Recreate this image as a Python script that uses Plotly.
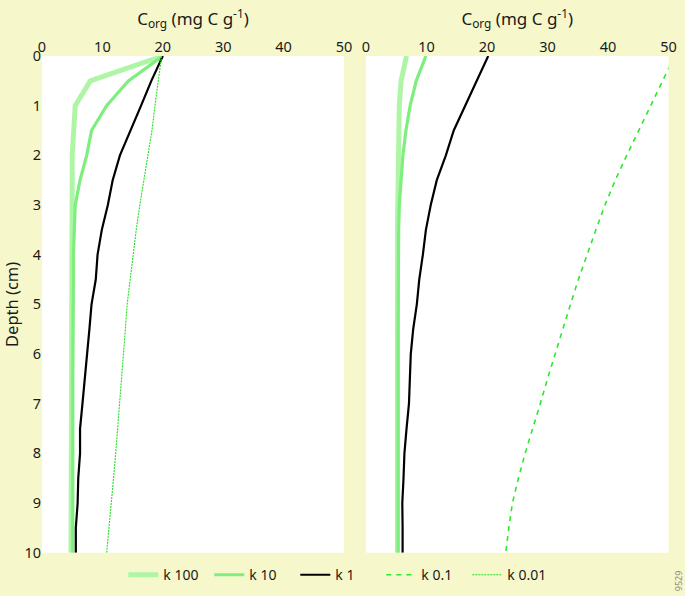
import plotly.graph_objects as go

# Depth (cm)
depth = [0, 0.5, 1, 1.5, 2, 2.5, 3, 3.5, 4, 4.5, 5, 5.5, 6, 6.5, 7, 7.5, 8, 8.5, 9, 9.5, 10]

# Left panel: Corg (mg C g-1)
left_k100 = [20, 8.0, 5.5, 5.2, 5.0, 5.0, 5.0, 4.9, 4.9, 4.9, 4.85, 4.85, 4.8, 4.8, 4.8, 4.8, 4.8, 4.8, 4.8, 4.8, 4.8]
left_k10 = [20, 14.3, 10.7, 8.2, 7.4, 6.3, 5.5, 5.3, 5.2, 5.2, 5.15, 5.1, 5.1, 5.1, 5.1, 5.1, 5.1, 5.1, 5.1, 5.1, 5.1]
left_k1 = [20, 18.1, 16.4, 14.6, 12.9, 11.7, 10.9, 9.9, 9.2, 8.9, 8.2, 7.85, 7.5, 7.1, 6.7, 6.3, 6.3, 6.0, 5.9, 5.6, 5.6]
left_k001 = [19.8, 19.2, 18.7, 18.2, 17.5, 16.8, 16.2, 15.6, 15.1, 14.6, 14.1, 13.8, 13.5, 13.2, 12.9, 12.55, 12.2, 11.85, 11.5, 11.1, 10.7]

# Right panel: Corg (mg C g-1)
right_k100 = [6.7, 5.8, 5.5, 5.4, 5.3, 5.3, 5.2, 5.2, 5.2, 5.2, 5.2, 5.2, 5.2, 5.2, 5.2, 5.2, 5.2, 5.2, 5.2, 5.2, 5.2]
right_k10 = [9.9, 8.3, 7.3, 6.6, 6.1, 5.8, 5.5, 5.4, 5.35, 5.3, 5.3, 5.3, 5.3, 5.3, 5.3, 5.3, 5.3, 5.3, 5.3, 5.3, 5.3]
right_k1 = [20.2, 18.3, 16.4, 14.5, 13.2, 11.7, 10.7, 9.9, 9.4, 8.8, 8.4, 7.8, 7.4, 7.3, 7.1, 6.7, 6.35, 6.2, 6.0, 6.05, 6.05]
right_k01 = [51, 49, 47, 45, 43.1, 41.2, 39.5, 38.0, 36.5, 35.1, 33.8, 32.5, 31.3, 30.0, 28.8, 27.5, 26.3, 25.2, 24.2, 23.6, 23.1]

x_ticks = [0, 10, 20, 30, 40, 50]
y_ticks = [0, 1, 2, 3, 4, 5, 6, 7, 8, 9, 10]

C100 = "#AEF5A6"
C10 = "#7EEE7E"
C1 = "#000000"
C01 = "#2EE82E"
C001 = "#22E022"

FONT = "Noto Sans"
BG = "#F6F8CC"
TXT = "#1a1a1a"

fig = go.Figure()

def add(x, name, color, width, dash, xa, ya, show):
    fig.add_trace(go.Scatter(
        x=x, y=depth, mode="lines", name=name,
        line=dict(color=color, width=width, dash=dash),
        xaxis=xa, yaxis=ya, showlegend=show, hoverinfo="skip"))

add(left_k100, "k 100", C100, 5, "solid", "x", "y", True)
add(left_k10, "k 10", C10, 3.2, "solid", "x", "y", True)
add(left_k1, "k 1", C1, 2.2, "solid", "x", "y", True)
add(right_k100, "k 100", C100, 5, "solid", "x2", "y2", False)
add(right_k10, "k 10", C10, 3.2, "solid", "x2", "y2", False)
add(right_k1, "k 1", C1, 2.2, "solid", "x2", "y2", False)
add(right_k01, "k 0.1", C01, 1.6, "5px,5px", "x2", "y2", True)
add(left_k001, "k 0.01", C001, 1.1, "2px,1px", "x", "y", True)

title_text = "C<sub>org</sub> (mg C g<sup>-1</sup>)"

xcommon = dict(range=[0, 50], tickvals=x_ticks, side="top", showgrid=False,
               zeroline=False, showline=False, ticks="",
               tickfont=dict(size=14.5, color=TXT, family=FONT),
               title=dict(text=title_text, font=dict(size=17, color=TXT, family=FONT), standoff=6),
               automargin=False, fixedrange=True)
ycommon = dict(range=[10, 0], tickvals=y_ticks, showgrid=False, zeroline=False,
               showline=False, ticks="", automargin=False, fixedrange=True,
               tickfont=dict(size=14.5, color=TXT, family=FONT))

fig.update_layout(
    width=685, height=596,
    margin=dict(l=0, r=0, t=0, b=0),
    paper_bgcolor=BG, plot_bgcolor="white",
    font=dict(family=FONT, color=TXT),
    xaxis=dict(domain=[42/685, 344/685], anchor="y", **xcommon),
    xaxis2=dict(domain=[366/685, 668.5/685], anchor="y2", **xcommon),
    yaxis=dict(domain=[43.3/596, 540/596], anchor="x",
               title=dict(text="Depth (cm)", font=dict(size=16.5, color=TXT, family=FONT), standoff=6),
               **ycommon),
    yaxis2=dict(domain=[43.3/596, 540/596], anchor="x2", showticklabels=False, **ycommon),
    legend=dict(orientation="h", x=0.18, xanchor="left", y=0.035, yanchor="middle",
                bgcolor="rgba(0,0,0,0)", font=dict(size=14, family=FONT, color=TXT),
                traceorder="normal", entrywidth=41, entrywidthmode="pixels"),
    annotations=[dict(text="9529", x=0.99, y=0.025, xref="paper", yref="paper",
                      xanchor="center", yanchor="middle",
                      showarrow=False, textangle=-90, font=dict(size=9, color="#888888", family=FONT))],
)

fig.write_html("out.html", config={"displayModeBar": False},
               post_script="document.body.style.margin='0';document.body.style.background='%s';" % BG)
